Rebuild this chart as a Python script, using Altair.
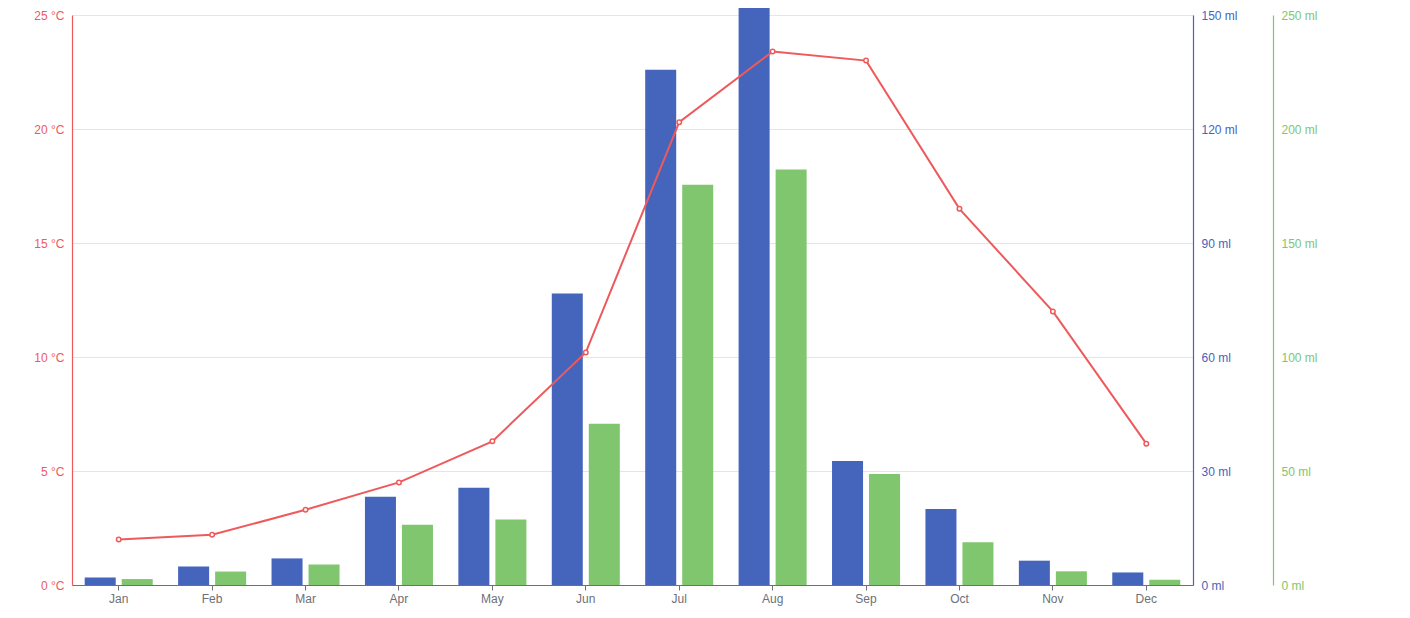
import altair as alt
import pandas as pd

months = ["Jan", "Feb", "Mar", "Apr", "May", "Jun", "Jul", "Aug", "Sep", "Oct", "Nov", "Dec"]
evaporation = [2.0, 4.9, 7.0, 23.2, 25.6, 76.7, 135.6, 162.2, 32.6, 20.0, 6.4, 3.3]
precipitation = [2.6, 5.9, 9.0, 26.4, 28.7, 70.7, 175.6, 182.2, 48.7, 18.8, 6.0, 2.3]
temperature = [2.0, 2.2, 3.3, 4.5, 6.3, 10.2, 20.3, 23.4, 23.0, 16.5, 12.0, 6.2]

BLUE = "#4564BC"
GREEN = "#80C66E"
RED = "#EE5A5C"
GRAY = "#6E7079"
FONT = "Liberation Sans"

df = pd.DataFrame({
    "month": months,
    "evap": evaporation,
    "precip": precipitation,
    "temp": temperature,
})

x_enc = alt.X(
    "month:N",
    sort=months,
    scale=alt.Scale(paddingInner=0, paddingOuter=0),
    axis=alt.Axis(
        title=None, labelAngle=0, domainColor=GRAY, tickColor=GRAY, tickSize=5,
        labelColor=GRAY, labelFontSize=12, labelPadding=3, grid=False,
        labelFont=FONT,
    ),
)

offset_scale = alt.Scale(domain=["Evaporation", "Precipitation"],
                         paddingInner=0.162, paddingOuter=0.343)

base = alt.Chart(df)

blue = base.transform_calculate(series="'Evaporation'").mark_bar(
    color=BLUE, clip=False
).encode(
    x=x_enc,
    xOffset=alt.XOffset("series:N", scale=offset_scale),
    y=alt.Y(
        "evap:Q",
        scale=alt.Scale(domain=[0, 150], nice=False, zero=True),
        axis=alt.Axis(
            orient="right", title=None, values=[0, 30, 60, 90, 120, 150],
            labelExpr="datum.value + ' ml'", domainColor=BLUE, labelColor=BLUE,
            ticks=False, grid=False, labelPadding=8, labelFontSize=12,
            labelFont=FONT, domainWidth=1.2,
        ),
    ),
)

green = base.transform_calculate(series="'Precipitation'").mark_bar(
    color=GREEN, clip=False
).encode(
    x=x_enc,
    xOffset=alt.XOffset("series:N", scale=offset_scale),
    y=alt.Y(
        "precip:Q",
        scale=alt.Scale(domain=[0, 250], nice=False, zero=True),
        axis=alt.Axis(
            orient="right", offset=80, title=None,
            values=[0, 50, 100, 150, 200, 250],
            labelExpr="datum.value + ' ml'", domainColor=GREEN, labelColor=GREEN,
            ticks=False, grid=False, labelPadding=8, labelFontSize=12,
            labelFont=FONT, domainWidth=1.2,
        ),
    ),
)

line = base.mark_line(
    color=RED, strokeWidth=2,
    point=alt.OverlayMarkDef(shape="circle", filled=True, fill="white",
                             stroke=RED, strokeWidth=1.5, size=20),
).encode(
    x=x_enc,
    y=alt.Y(
        "temp:Q",
        scale=alt.Scale(domain=[0, 25], nice=False, zero=True),
        axis=alt.Axis(
            orient="left", title=None, values=[0, 5, 10, 15, 20, 25],
            labelExpr="datum.value + ' °C'", domainColor=RED, labelColor=RED,
            ticks=False, grid=True, gridColor="#E0E6F1", gridWidth=1,
            labelPadding=8, labelFontSize=12, labelFont=FONT, domainWidth=1.2,
        ),
    ),
)

chart = alt.layer(blue, green, line).resolve_scale(
    y="independent"
).properties(
    width=1121,
    height=570,
    autosize=alt.AutoSizeParams(type="none"),
    padding={"left": 64, "top": 7, "right": 200, "bottom": 30},
).configure_view(stroke=None).configure_axis(gridColor="#E0E6F1")

chart.save("out.html", embed_options={"renderer": "svg", "actions": False})
